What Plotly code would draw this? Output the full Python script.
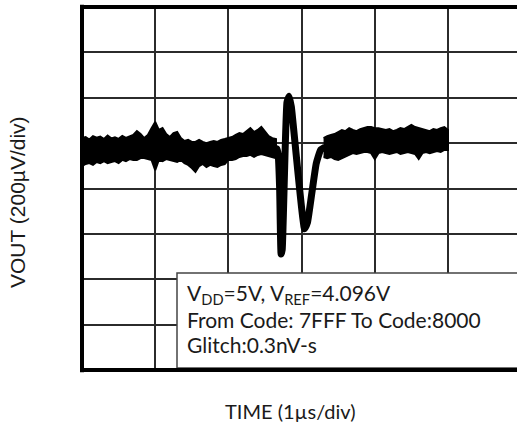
import plotly.graph_objects as go

# Noise band before the glitch: time (µs), upper/lower edge of the trace (µV)
t_left = [0.00, 0.05, 0.10, 0.15, 0.20, 0.25, 0.30, 0.35, 0.40, 0.45,
          0.50, 0.55, 0.60, 0.65, 0.70, 0.75, 0.80, 0.85, 0.90, 0.95,
          1.00, 1.05, 1.10, 1.15, 1.20, 1.25, 1.30, 1.35, 1.40, 1.45,
          1.50, 1.55, 1.60, 1.65, 1.70, 1.75, 1.80, 1.85, 1.90, 1.95,
          2.00, 2.05, 2.10, 2.15, 2.20, 2.25, 2.30, 2.35, 2.40, 2.45,
          2.50, 2.55, 2.60, 2.65]
upper_left = [222, 227, 216, 231, 224, 229, 218, 233, 221, 226,
              219, 232, 223, 228, 236, 253, 240, 222, 236, 266,
              293, 258, 266, 240, 227, 244, 249, 222, 209, 214,
              205, 205, 214, 205, 200, 205, 209, 205, 214, 218,
              222, 227, 236, 244, 240, 253, 266, 249, 258, 271,
              253, 231, 222, 218]
lower_left = [99, 108, 112, 104, 117, 112, 121, 112, 117, 121,
              112, 126, 121, 130, 126, 126, 134, 134, 130, 126,
              81, 126, 121, 130, 126, 121, 117, 126, 112, 104,
              90, 73, 99, 108, 95, 104, 99, 95, 104, 108,
              126, 126, 130, 139, 143, 143, 148, 139, 148, 152,
              148, 143, 139, 134]

# Glitch transient (centre of the trace)
t_glitch = [2.60, 2.66, 2.68, 2.70, 2.72, 2.735, 2.80, 2.83, 2.86,
            3.04, 3.08, 3.14, 3.20, 3.26, 3.32]
v_glitch = [180, 175, 150, 0, -289, -270, 380, 407, 360,
            -178, -150, -20, 110, 170, 182]

# Noise band after the glitch
t_right = [3.30, 3.35, 3.40, 3.45, 3.50, 3.55, 3.60, 3.65, 3.70, 3.75,
           3.80, 3.85, 3.90, 3.95, 4.00, 4.05, 4.10, 4.15, 4.20, 4.25,
           4.30, 4.35, 4.40, 4.45, 4.50, 4.55, 4.60, 4.65, 4.70, 4.75,
           4.80, 4.85, 4.90, 4.95, 5.00]
upper_right = [222, 231, 236, 240, 249, 258, 253, 266, 258, 253,
               262, 266, 271, 271, 266, 266, 262, 258, 262, 253,
               258, 266, 262, 271, 280, 271, 266, 262, 258, 253,
               262, 258, 266, 271, 258]
lower_right = [139, 134, 139, 130, 126, 134, 143, 148, 156, 152,
               156, 161, 161, 156, 130, 156, 161, 156, 152, 156,
               161, 152, 156, 161, 156, 152, 130, 156, 161, 156,
               161, 165, 161, 170, 170]

W, H = 517, 428
ML, MR, MT, MB = 82, 0, 7, 58
PW, PH = W - ML - MR, H - MT - MB
DIV_X = 73.2                       # px per 1 µs division
X_MAX = PW / DIV_X


def px(x):
    return (x - ML) / PW


def py(y):
    return (H - MB - y) / PH


def band(t, up, lo):
    return go.Scatter(
        x=t + t[::-1], y=up + lo[::-1], mode="lines", fill="toself",
        fillcolor="black", line=dict(color="black", width=2),
        hoverinfo="skip", showlegend=False)


fig = go.Figure()
fig.add_trace(band(t_left, upper_left, lower_left))
fig.add_trace(band(t_right, upper_right, lower_right))
fig.add_trace(go.Scatter(
    x=t_glitch, y=v_glitch, mode="lines",
    line=dict(color="black", width=7, shape="spline", smoothing=0.4),
    showlegend=False))

grid = dict(showgrid=True, gridcolor="#2b2b2b", gridwidth=2,
            zeroline=False, showline=False, showticklabels=False,
            ticks="", fixedrange=True)
fig.update_xaxes(range=[0, X_MAX], dtick=1, tick0=0, **grid)
fig.update_yaxes(range=[-800, 800], dtick=200, tick0=0, **grid)

shapes = [
    # note box
    dict(type="rect", xref="paper", yref="paper",
         x0=px(177), x1=1.05, y0=py(368), y1=py(273),
         fillcolor="white", line=dict(color="#444", width=1.5), layer="above"),
    # frame: left, top, bottom
    dict(type="line", xref="paper", yref="paper", x0=0, x1=0, y0=-0.006, y1=1.006,
         line=dict(color="black", width=4), layer="above"),
    dict(type="line", xref="paper", yref="paper", x0=0, x1=1.02, y0=1, y1=1,
         line=dict(color="black", width=4), layer="above"),
    dict(type="line", xref="paper", yref="paper", x0=0, x1=1.02, y0=0, y1=0,
         line=dict(color="black", width=4), layer="above"),
]

note_font = dict(family="Lato", size=21, color="#1a1a1a")
notes = [
    ("V<sub>DD</sub>=5V, V<sub>REF</sub>=4.096V", 294),
    ("From Code: 7FFF To Code:8000", 319),
    ("Glitch:0.3nV-s", 344),
]
annotations = [
    dict(text=txt, xref="paper", yref="paper", x=px(185), y=py(yc),
         xanchor="left", yanchor="middle", showarrow=False, font=note_font)
    for txt, yc in notes
]
annotations.append(dict(
    text="VOUT (200µV/div)", xref="paper", yref="paper", x=px(17), y=py(202),
    xanchor="center", yanchor="middle", textangle=-90, showarrow=False,
    font=dict(family="Liberation Sans", size=21, color="#1a1a1a")))
annotations.append(dict(
    text="TIME (1µs/div)", xref="paper", yref="paper", x=px(290), y=py(411),
    xanchor="center", yanchor="middle", showarrow=False,
    font=dict(family="Lato", size=20, color="#1a1a1a")))

fig.update_layout(
    width=W, height=H,
    margin=dict(l=ML, r=MR, t=MT, b=MB, pad=0),
    paper_bgcolor="white", plot_bgcolor="white",
    shapes=shapes, annotations=annotations, showlegend=False,
)

fig.write_html("out.html", config={"displayModeBar": False})
